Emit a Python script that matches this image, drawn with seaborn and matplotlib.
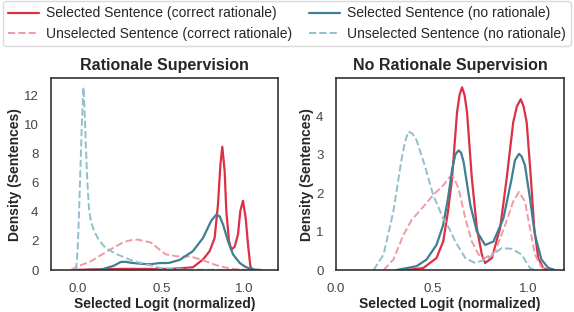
import numpy as np
import pandas as pd
import matplotlib
matplotlib.use("Agg")
import matplotlib.pyplot as plt
import seaborn as sns

# ---- data (density curves, x = normalized logit) ----
# Left panel: Rationale Supervision
rs_sel_correct_x = [-0.02, 0.05, 0.15, 0.3, 0.45, 0.55, 0.62, 0.69, 0.75, 0.79, 0.82, 0.84, 0.855, 0.866,
                    0.88, 0.89, 0.906, 0.92, 0.94, 0.96, 0.974, 0.99, 1.006, 1.02, 1.034, 1.048]
rs_sel_correct_y = [0.0, 0.03, 0.06, 0.08, 0.07, 0.08, 0.12, 0.19, 0.72, 1.3, 2.2, 4.5, 7.3, 8.5,
                    6.85, 4.1, 2.0, 1.41, 1.6, 2.45, 4.07, 4.77, 3.6, 1.77, 0.26, 0.0]

rs_unsel_correct_x = [-0.042, 0.0, 0.078, 0.178, 0.277, 0.329, 0.357, 0.437, 0.491, 0.527, 0.591,
                      0.651, 0.671, 0.75, 0.83, 0.91, 1.0, 1.06]
rs_unsel_correct_y = [0.0, 0.25, 0.6, 1.3, 1.94, 2.08, 2.1, 1.9, 1.4, 1.08, 0.95,
                      0.92, 0.95, 0.67, 0.33, 0.1, 0.02, 0.0]

rs_sel_none_x = [0.06, 0.138, 0.217, 0.257, 0.287, 0.317, 0.389, 0.437, 0.491, 0.531, 0.551, 0.611,
                 0.69, 0.75, 0.8, 0.83, 0.85, 0.87, 0.9, 0.93, 0.97, 1.0, 1.03, 1.066, 1.1]
rs_sel_none_y = [0.0, 0.02, 0.3, 0.55, 0.57, 0.5, 0.42, 0.4, 0.48, 0.48, 0.5, 0.7,
                 1.3, 2.2, 3.4, 3.82, 3.7, 3.15, 2.0, 1.08, 0.49, 0.25, 0.1, 0.02, 0.0]

rs_unsel_none_x = [-0.01, 0.0, 0.008, 0.016, 0.025, 0.034, 0.041, 0.048, 0.057, 0.068, 0.08, 0.098,
                   0.125, 0.157, 0.2, 0.238, 0.29, 0.337, 0.39, 0.437, 0.49, 0.55, 0.65, 0.75, 0.85, 0.95]
rs_unsel_none_y = [0.0, 1.5, 4.0, 7.0, 10.2, 12.6, 11.0, 8.7, 6.2, 4.1, 3.3, 2.7,
                   2.1, 1.64, 1.3, 1.07, 0.82, 0.6, 0.45, 0.32, 0.15, 0.08, 0.04, 0.02, 0.01, 0.0]

# Right panel: No Rationale Supervision
nr_sel_correct_x = [0.367, 0.453, 0.522, 0.557, 0.582, 0.603, 0.629, 0.642, 0.655, 0.668, 0.681, 0.706,
                    0.732, 0.758, 0.775, 0.81, 0.853, 0.887, 0.921, 0.94, 0.96, 0.975, 0.991, 1.013,
                    1.03, 1.051, 1.077, 1.1]
nr_sel_correct_y = [0.0, 0.05, 0.31, 0.74, 1.52, 2.38, 4.1, 4.55, 4.75, 4.55, 4.1, 2.38,
                    1.09, 0.4, 0.18, 0.31, 1.09, 2.38, 3.84, 4.25, 4.44, 4.25, 3.84, 2.38,
                    1.09, 0.31, 0.05, 0.0]

nr_unsel_correct_x = [0.247, 0.298, 0.35, 0.393, 0.453, 0.505, 0.557, 0.591, 0.61, 0.637, 0.672, 0.706,
                      0.741, 0.775, 0.827, 0.879, 0.921, 0.951, 0.982, 1.008, 1.034, 1.068, 1.1]
nr_unsel_correct_y = [0.0, 0.27, 0.91, 1.3, 1.64, 1.95, 2.2, 2.42, 2.42, 2.12, 1.34, 0.74,
                      0.4, 0.31, 0.48, 1.17, 1.78, 2.03, 1.78, 1.09, 0.4, 0.07, 0.0]

nr_sel_none_x = [0.315, 0.419, 0.47, 0.522, 0.557, 0.582, 0.603, 0.62, 0.637, 0.65, 0.663, 0.698,
                 0.732, 0.775, 0.818, 0.87, 0.913, 0.93, 0.951, 0.965, 0.982, 1.008, 1.034, 1.068,
                 1.102, 1.137]
nr_sel_none_y = [0.0, 0.1, 0.27, 0.65, 1.17, 1.86, 2.6, 3.0, 3.11, 3.05, 2.81, 1.69,
                 1.0, 0.65, 0.74, 1.34, 2.38, 2.85, 3.02, 2.95, 2.72, 1.86, 0.91, 0.27,
                 0.06, 0.0]

nr_unsel_none_x = [0.195, 0.247, 0.298, 0.341, 0.358, 0.376, 0.398, 0.419, 0.461, 0.505, 0.557, 0.586,
                   0.62, 0.672, 0.724, 0.792, 0.861, 0.913, 0.965, 1.008, 1.034]
nr_unsel_none_y = [0.0, 0.4, 1.52, 2.89, 3.32, 3.6, 3.54, 3.37, 2.72, 1.95, 1.34, 1.1,
                   0.74, 0.31, 0.18, 0.31, 0.57, 0.55, 0.4, 0.05, 0.0]

labels = [
    "Selected Sentence (correct rationale)",
    "Unselected Sentence (correct rationale)",
    "Selected Sentence (no rationale)",
    "Unselected Sentence (no rationale)",
]
colors = ["#dc3144", "#f09aa3", "#3f7f92", "#92bfcc"]
styles = ["-", "--", "-", "--"]

panels = [
    ("Rationale Supervision",
     [(rs_sel_correct_x, rs_sel_correct_y), (rs_unsel_correct_x, rs_unsel_correct_y),
      (rs_sel_none_x, rs_sel_none_y), (rs_unsel_none_x, rs_unsel_none_y)],
     (-0.16, 1.2), [0, 2, 4, 6, 8, 10, 12]),
    ("No Rationale Supervision",
     [(nr_sel_correct_x, nr_sel_correct_y), (nr_unsel_correct_x, nr_unsel_correct_y),
      (nr_sel_none_x, nr_sel_none_y), (nr_unsel_none_x, nr_unsel_none_y)],
     (0.005, 1.185), [0, 1, 2, 3, 4]),
]

sns.set_theme(style="white")
plt.rcParams["font.family"] = ["Liberation Sans", "DejaVu Sans"]

fig = plt.figure(figsize=(5.74, 3.12), dpi=100)
ax_pos = [[0.0889, 0.1346, 0.3955, 0.615], [0.5854, 0.1346, 0.3972, 0.615]]

for (title, curves, xlim, yticks), pos in zip(panels, ax_pos):
    ax = fig.add_axes(pos)
    for (cx, cy), lab, col, ls in zip(curves, labels, colors, styles):
        sns.lineplot(x=cx, y=cy, ax=ax, color=col, linestyle=ls, estimator=None,
                     linewidth=1.6 if ls == "-" else 1.4, label=lab)
    if ax.get_legend() is not None:
        ax.get_legend().remove()
    ymax = max(max(cy) for _, cy in curves)
    ax.set_xlim(*xlim)
    ax.set_ylim(0, ymax * 1.05)
    ax.set_xticks([0.0, 0.5, 1.0])
    ax.set_xticklabels(["0.0", "0.5", "1.0"])
    ax.set_yticks(yticks)
    ax.tick_params(labelsize=9.5, pad=3, labelcolor="#444444")
    ax.set_title(title, fontsize=11.5, fontweight="bold", pad=6)
    ax.set_xlabel("Selected Logit (normalized)", fontsize=10, fontweight="bold", labelpad=2)
    ax.set_ylabel("Density (Sentences)", fontsize=10, fontweight="bold", labelpad=1.5)
    for s in ax.spines.values():
        s.set_color("#333333")
        s.set_linewidth(1.2)
    if title == "Rationale Supervision":
        handles, hlabels = ax.get_legend_handles_labels()

fig.legend(handles, hlabels, ncol=2, loc="center", mode="expand",
           bbox_to_anchor=(0.005, 0.858, 0.99, 0.133), borderaxespad=0,
           fontsize=10, handlelength=2.2, handletextpad=0.5, frameon=True,
           edgecolor="#d0d0d0", labelspacing=0.45, borderpad=0.4)

fig.savefig("out.png", dpi=100)
